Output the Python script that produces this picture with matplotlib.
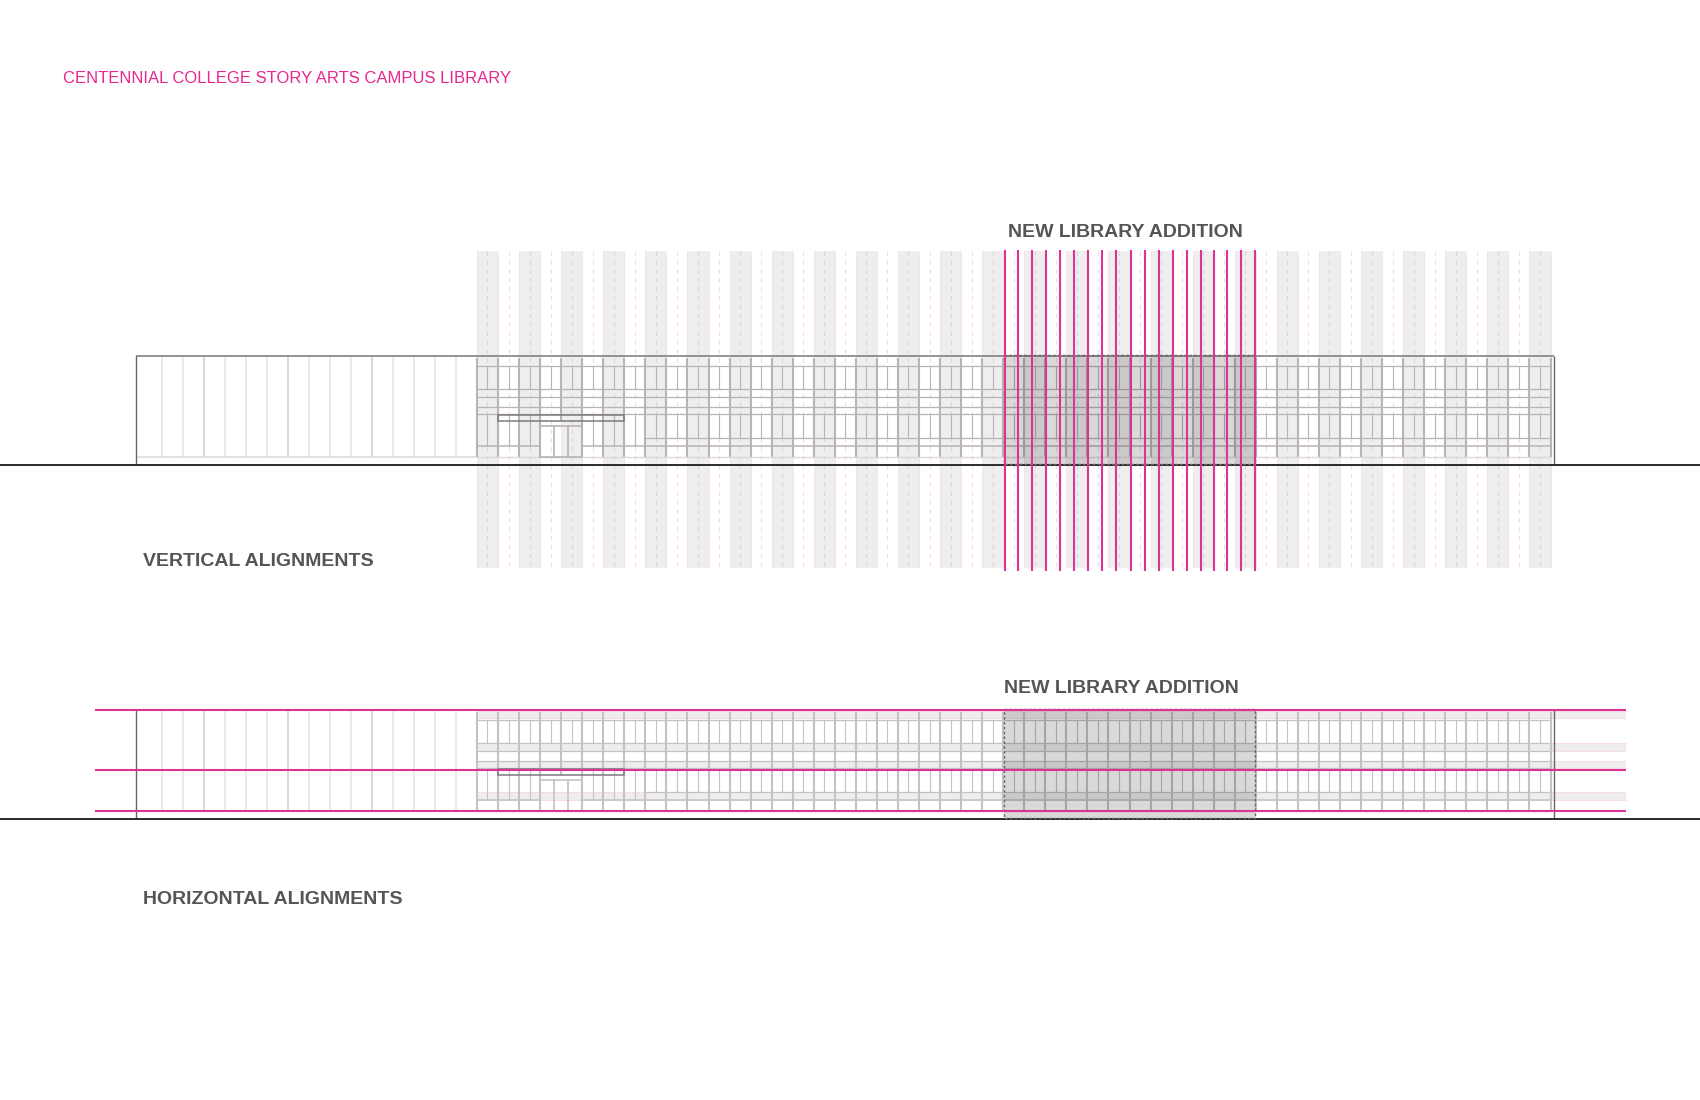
import matplotlib
matplotlib.use("Agg")
import matplotlib.pyplot as plt
from matplotlib.patches import Rectangle

plt.rcParams['font.family'] = ['Liberation Sans', 'DejaVu Sans']

# ---- data (pixel positions of the 1700x1100 sheet) ----
title_text = "CENTENNIAL COLLEGE STORY ARTS CAMPUS LIBRARY"
label_texts = ["NEW LIBRARY ADDITION", "VERTICAL ALIGNMENTS", "NEW LIBRARY ADDITION", "HORIZONTAL ALIGNMENTS"]
label_x = [1008, 143, 1004, 143]
label_y = [232.2, 562, 688.5, 900]

mullion_x = [477.0, 498.05, 519.1, 540.15, 561.2, 582.25, 603.3, 624.35, 645.4, 666.45, 687.5, 708.55, 729.6,
             750.65, 771.7, 792.75, 813.8, 834.85, 855.9, 876.95, 898.0, 919.05, 940.1, 961.15, 982.2, 1003.25,
             1024.3, 1045.35, 1066.4, 1087.45, 1108.5, 1129.55, 1150.6, 1171.65, 1192.7, 1213.75, 1234.8, 1255.85,
             1276.9, 1297.95, 1319.0, 1340.05, 1361.1, 1382.15, 1403.2, 1424.25, 1445.3, 1466.35, 1487.4, 1508.45,
             1529.5, 1550.55]
thin_mullion_x = [487.5, 508.6, 529.6, 550.7, 571.7, 592.8, 613.8, 634.9, 655.9, 677.0, 698.0, 719.1, 740.1,
                  761.2, 782.2, 803.3, 824.3, 845.4, 866.4, 887.5, 908.5, 929.6, 950.6, 971.7, 992.7, 1013.8,
                  1034.8, 1055.9, 1076.9, 1098.0, 1119.0, 1140.1, 1161.1, 1182.2, 1203.2, 1224.3, 1245.3, 1266.4,
                  1287.4, 1308.5, 1329.5, 1350.6, 1371.6, 1392.7, 1413.7, 1434.8, 1455.8, 1476.9, 1497.9, 1519.0,
                  1540.0]
wing_x = [161.9, 182.9, 204.0, 225.0, 246.1, 267.1, 288.2, 309.2, 330.3, 351.3, 372.4, 393.4, 414.5, 435.5, 456.0]
wing_heavy = [204.0, 288.2, 372.4]
magenta_x = [1004.7, 1018.3, 1032.3, 1046.0, 1060.0, 1073.7, 1087.7, 1101.7, 1115.7, 1131.0, 1145.0, 1159.0,
             1172.7, 1186.7, 1200.7, 1214.0, 1227.3, 1241.3, 1255.0]

bldg_left, bldg_right = 136.2, 1554.4
roof_y, ground_y = 356.3, 464.8
elev_offsets = [0, 354]
band_top, band_bottom = 251, 568
mag_top, mag_bottom = 250, 571
window_rows = [(366.0, 389.3), (414.0, 446.0)]
horizontals = [366.0, 389.3, 396.7, 407.0, 414.0]
h_bands = [(357.0, 364.3), (389.3, 396.7), (406.7, 414.0), (438.3, 446.0)]
h_band_right = 1626.5
mag_h_y = [356.0, 415.8, 457.0]
mag_h_x = (95.4, 1626.0)
addition = (1004.0, 1255.5)
base_y = 456.8
sill_switch_x = 645.4
sill_y = 438.3
canopy = (498.05, 624.35, 414.6, 421.0)
door = (540.15, 582.25, 426.0, 456.8)
door_mullions = [554.3, 568.3]

GREY1, GREY2 = "#b8b3b8", "#c4c2c4"
MAG = "#dc3397"
PINK = "#f8e2ea"
fig = plt.figure(figsize=(17, 11), dpi=100, facecolor="white")
ax = fig.add_axes([0, 0, 1, 1])
ax.set_xlim(0, 1700)
ax.set_ylim(1100, 0)
ax.axis("off")


def vl(x, y0, y1, color, lw, z=2, **kw):
    ax.plot([x, x], [y0, y1], color=color, lw=lw, zorder=z, solid_capstyle="butt", **kw)


def hl(y, x0, x1, color, lw, z=2, **kw):
    ax.plot([x0, x1], [y, y], color=color, lw=lw, zorder=z, solid_capstyle="butt", **kw)


# vertical alignment bands (top elevation)
lefts = mullion_x[0:51:2]
rights = mullion_x[1:52:2]
for l, r in zip(lefts, rights):
    ax.add_patch(Rectangle((l, band_top), r - l, band_bottom - band_top, fc="#eeeeee", ec="none", zorder=1))
    vl(l, band_top, band_bottom, PINK, 0.7, 1.2)
    vl(r, band_top, band_bottom, PINK, 0.7, 1.2)
for i, x in enumerate(thin_mullion_x):
    col = "#dcd8da" if i % 2 == 0 else "#f8d8e5"
    ax.plot([x, x], [band_top, band_bottom], color=col, lw=0.8, ls=(0, (4, 4)), zorder=1.4)

# horizontal bands (bottom elevation)
for y0, y1 in h_bands:
    y0b, y1b = y0 + elev_offsets[1], y1 + elev_offsets[1]
    ax.add_patch(Rectangle((mullion_x[0], y0b), h_band_right - mullion_x[0], y1b - y0b, fc="#efeced", ec="none", zorder=1))
    hl(y0b, mullion_x[0], h_band_right, "#f5dde6", 0.7, 1.2)
    hl(y1b, mullion_x[0], h_band_right, "#f5dde6", 0.7, 1.2)

for dy, grey in zip(elev_offsets, (GREY1, GREY2)):
    # left wing
    for x in wing_x:
        c = "#cfcfcf" if x in wing_heavy else "#e4e4e4"
        vl(x, roof_y + 1 + dy, base_y + dy, c, 1.1)
    hl(base_y + dy, bldg_left, mullion_x[0], "#e0e0e0", 1.3)

    # facade verticals and rows
    for x in mullion_x:
        if door[0] < x < door[1]:
            vl(x, roof_y + 2 + dy, 421 + dy, grey, 1.5)
            continue
        vl(x, roof_y + 2 + dy, base_y + dy, grey, 1.5)
    for y0, y1 in window_rows:
        for x in thin_mullion_x:
            bottom = y1 if x < sill_switch_x or y0 < 400 else sill_y
            if door[0] < x < door[1] and y0 > 400:
                continue
            vl(x, y0 + dy, bottom + dy, grey, 0.8)
    for y in horizontals:
        hl(y + dy, mullion_x[0], mullion_x[-1], grey, 0.9)
    # lower windows and sill: old entrance bay ends lower than the remainder
    hl(446.0 + dy, mullion_x[0], door[0], grey, 1.1)
    hl(446.0 + dy, door[1], mullion_x[-1], grey, 1.1)
    hl(sill_y + dy, sill_switch_x, mullion_x[-1], grey, 0.9)
    hl(base_y + dy, mullion_x[0], mullion_x[-1], "#dcd8dc", 1.0)

    # entrance
    ax.add_patch(Rectangle((door[0], door[2] + dy), door[1] - door[0], door[3] - door[2],
                           fc="none", ec=grey, lw=1.2, zorder=2.2))
    for x in door_mullions:
        vl(x, door[2] + dy, door[3] + dy, grey, 1.2, 2.2)
    ax.add_patch(Rectangle((canopy[0], canopy[2] + dy), canopy[1] - canopy[0], canopy[3] - canopy[2],
                           fc="none", ec="#7f797f", lw=1.1, zorder=2.4))

    # new addition
    ax.add_patch(Rectangle((addition[0], roof_y - 1 + dy), addition[1] - addition[0], ground_y - roof_y,
                           fc=(0, 0, 0, 0.15), ec="#666666", lw=1.0, ls=(0, (2, 1.5)), zorder=3))

    # outline and ground
    hl(roof_y + dy, bldg_left, bldg_right, "#777777", 1.1, 2.6)
    vl(bldg_left, roof_y + dy, ground_y + dy, "#666666", 1.0, 2.6)
    vl(bldg_right, roof_y + dy, ground_y + dy, "#666666", 1.0, 2.6)
    hl(ground_y + dy, 0, 1700, "#2b2b2b", 1.4, 2.8)

# magenta alignment lines
for x in magenta_x:
    vl(x, mag_top, mag_bottom, MAG, 1.5, 4)
for y in mag_h_y:
    hl(y + elev_offsets[1], mag_h_x[0], mag_h_x[1], MAG, 1.5, 4)

# text
ax.text(63, 78.6, title_text, color="#e6278f", fontsize=11.98, ha="left", va="center")
for s, x, y in zip(label_texts, label_x, label_y):
    ax.text(x, y, s, color="#555555", fontsize=14.0, fontweight="bold", ha="left", va="center")

fig.savefig("out.png", dpi=100, facecolor="white")
